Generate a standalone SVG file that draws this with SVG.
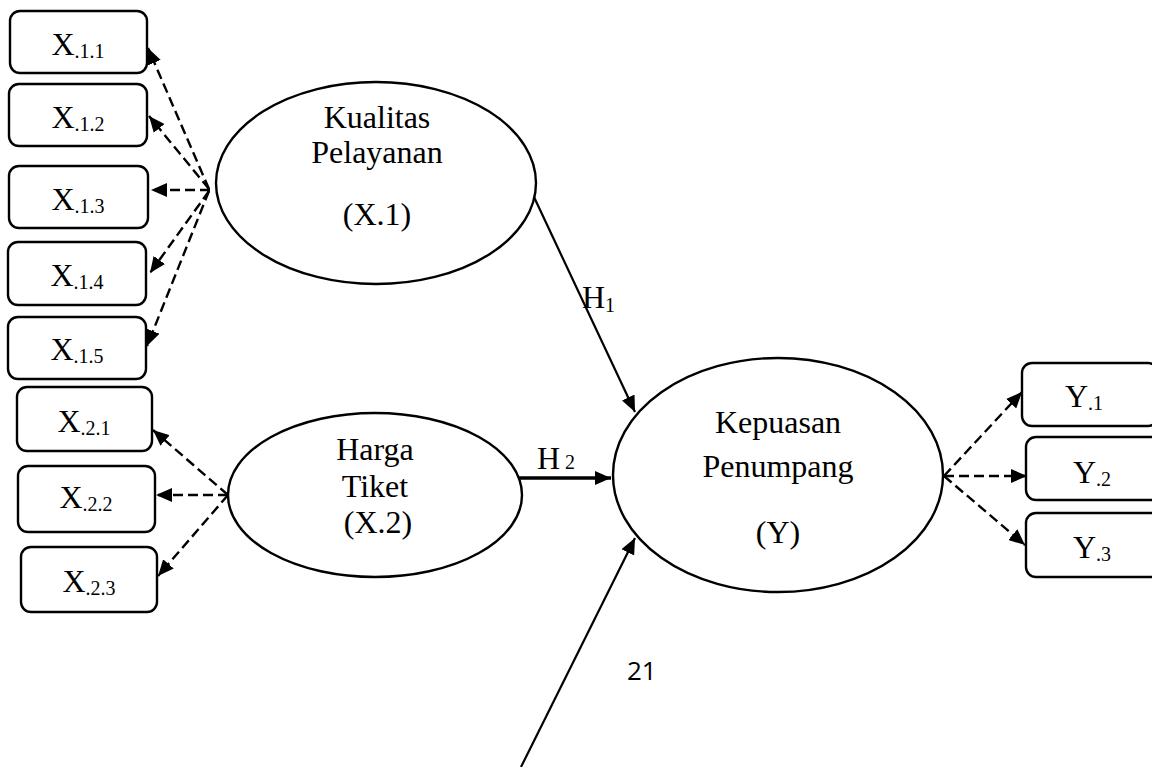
<svg xmlns="http://www.w3.org/2000/svg" width="1152" height="767" viewBox="0 0 1152 767">
<style>
.box{fill:#fff;stroke:#000;stroke-width:2.4}
.ell{fill:#fff;stroke:#000;stroke-width:2.4}
.t{font-family:"Liberation Serif","Times New Roman",serif;font-size:32px;fill:#000;text-anchor:middle}
.bt{font-family:"Liberation Serif","Times New Roman",serif;font-size:32px;fill:#000;text-anchor:middle}
.sub{font-size:20px}
.dash{fill:none;stroke:#000;stroke-width:2.4;stroke-dasharray:10 5;marker-end:url(#ah)}
.solid{fill:none;stroke:#000;stroke-width:2.2;marker-end:url(#ah)}
.thick{fill:none;stroke:#000;stroke-width:3.6;marker-end:url(#ah)}
.pg{font-family:"Open Sans","Liberation Sans",sans-serif;font-size:26px;fill:#000}
</style>
<defs>
<marker id="ah" markerUnits="userSpaceOnUse" markerWidth="17" markerHeight="14" refX="16" refY="7" orient="auto" viewBox="0 0 17 14">
<path d="M0,0 L16,7 L0,14 Z" fill="#000"/>
</marker>
</defs>
<rect width="1152" height="767" fill="#fff"/>

<g id="connectors">
<line class="dash" x1="209" y1="189" x2="148" y2="48"/>
<line class="dash" x1="209" y1="189" x2="149" y2="116"/>
<line class="dash" x1="210" y1="190" x2="151" y2="190"/>
<line class="dash" x1="209" y1="191" x2="150" y2="273"/>
<line class="dash" x1="209" y1="191" x2="147" y2="346"/>
<line class="dash" x1="228" y1="495" x2="153" y2="430"/>
<line class="dash" x1="228" y1="495" x2="156" y2="495"/>
<line class="dash" x1="228" y1="495" x2="158" y2="576"/>
<line class="dash" x1="944" y1="476" x2="1022" y2="392"/>
<line class="dash" x1="944" y1="476" x2="1027" y2="476"/>
<line class="dash" x1="944" y1="476" x2="1025" y2="545"/>
<line class="solid" x1="534" y1="197" x2="635" y2="412"/>
<line class="thick" x1="519" y1="478" x2="611" y2="478"/>
<line class="solid" x1="521" y1="767" x2="635" y2="538"/>
<text class="t" x="582" y="308" style="text-anchor:start">H<tspan class="sub" dy="4">1</tspan></text>
<text class="t" x="537" y="469" style="text-anchor:start">H<tspan class="sub"> 2</tspan></text>
</g>

<g id="kualitas">
<ellipse class="ell" cx="376" cy="183" rx="160" ry="101"/>
<text class="t" x="377" y="128">Kualitas</text>
<text class="t" x="377" y="163">Pelayanan</text>
<text class="t" x="377" y="225">(X.1)</text>
</g>

<g id="harga">
<ellipse class="ell" cx="375" cy="495" rx="147" ry="82"/>
<text class="t" x="375" y="460">Harga</text>
<text class="t" x="375" y="497">Tiket</text>
<text class="t" x="378" y="533">(X.2)</text>
</g>

<g id="kepuasan">
<ellipse class="ell" cx="778" cy="475" rx="165" ry="117"/>
<text class="t" x="778" y="433">Kepuasan</text>
<text class="t" x="778" y="477">Penumpang</text>
<text class="t" x="778" y="543">(Y)</text>
</g>

<g id="x11"><rect class="box" x="10" y="11" width="137" height="62" rx="10"/><text class="bt" x="78" y="55">X<tspan class="sub" dy="3">.1.1</tspan></text></g>
<g id="x12"><rect class="box" x="9" y="84" width="138" height="62" rx="10"/><text class="bt" x="78" y="128">X<tspan class="sub" dy="3">.1.2</tspan></text></g>
<g id="x13"><rect class="box" x="9" y="166" width="139" height="62" rx="10"/><text class="bt" x="78" y="210">X<tspan class="sub" dy="3">.1.3</tspan></text></g>
<g id="x14"><rect class="box" x="8" y="242" width="138" height="63" rx="10"/><text class="bt" x="77" y="286">X<tspan class="sub" dy="3">.1.4</tspan></text></g>
<g id="x15"><rect class="box" x="8" y="317" width="138" height="62" rx="10"/><text class="bt" x="77" y="360">X<tspan class="sub" dy="3">.1.5</tspan></text></g>
<g id="x21"><rect class="box" x="17" y="387" width="135" height="64" rx="10"/><text class="bt" x="84" y="432">X<tspan class="sub" dy="3">.2.1</tspan></text></g>
<g id="x22"><rect class="box" x="18" y="466" width="137" height="66" rx="10"/><text class="bt" x="86" y="508">X<tspan class="sub" dy="3">.2.2</tspan></text></g>
<g id="x23"><rect class="box" x="21" y="547" width="136" height="65" rx="10"/><text class="bt" x="89" y="592">X<tspan class="sub" dy="3">.2.3</tspan></text></g>

<g id="y1"><rect class="box" x="1022" y="363" width="136" height="63" rx="10"/><text class="bt" x="1084" y="407">Y<tspan class="sub" dy="3">.1</tspan></text></g>
<g id="y2"><rect class="box" x="1026" y="437" width="136" height="63" rx="10"/><text class="bt" x="1092" y="483">Y<tspan class="sub" dy="3">.2</tspan></text></g>
<g id="y3"><rect class="box" x="1026" y="513" width="136" height="64" rx="10"/><text class="bt" x="1092" y="558">Y<tspan class="sub" dy="3">.3</tspan></text></g>

<text class="pg" x="627" y="680">21</text>
</svg>
